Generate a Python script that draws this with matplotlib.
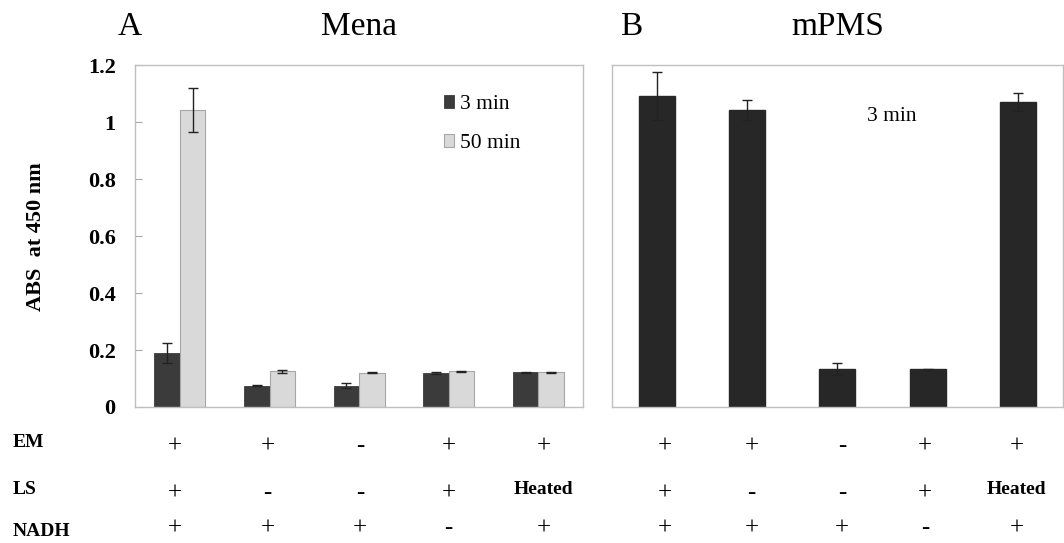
import numpy as np
import matplotlib
matplotlib.use("Agg")
from matplotlib import pyplot as plt
import matplotlib.transforms as mtransforms

plt.rcParams['font.family'] = ['Liberation Serif', 'DejaVu Serif']

# panel A (Mena), two time points
mena_3min = [0.19, 0.075, 0.075, 0.12, 0.122]
mena_3min_err = [0.035, 0.003, 0.01, 0.003, 0.002]
mena_50min = [1.043, 0.126, 0.12, 0.125, 0.122]
mena_50min_err = [0.077, 0.005, 0.002, 0.002, 0.002]

# panel B (mPMS), 3 min only
mpms_3min = [1.092, 1.042, 0.133, 0.133, 1.072]
mpms_3min_err = [0.085, 0.035, 0.02, 0.002, 0.032]

row_names = ['EM', 'LS', 'NADH']
row_em = ['+', '+', '-', '+', '+']
row_ls = ['+', '-', '-', '+', 'Heated']
row_nadh = ['+', '+', '+', '-', '+']

yticks = [0, 0.2, 0.4, 0.6, 0.8, 1, 1.2]
ytick_labels = ['0', '0.2', '0.4', '0.6', '0.8', '1', '1.2']

fig = plt.figure(figsize=(10.64, 5.43), dpi=100)
axA = fig.add_axes([0.127, 0.2505, 0.421, 0.6295])
axB = fig.add_axes([0.575, 0.2505, 0.424, 0.6295])

x = np.arange(5)
w = 0.285
err_kw = dict(ecolor='#222222', elinewidth=1.0, capsize=3.5, capthick=1.0)

axA.bar(x - w / 2, mena_3min, w, yerr=mena_3min_err, color='#3b3b3b',
        edgecolor='#3b3b3b', linewidth=0.6, label='3 min', error_kw=err_kw)
axA.bar(x + w / 2, mena_50min, w, yerr=mena_50min_err, color='#d9d9d9',
        edgecolor='#a6a6a6', linewidth=0.8, label='50 min', error_kw=err_kw)

axB.bar(x, mpms_3min, 0.4, yerr=mpms_3min_err, color='#272727',
        edgecolor='#272727', error_kw=err_kw)
axB.text(2.6, 1.02, '3 min', fontsize=15.5, ha='center', va='center')

for ax in (axA, axB):
    ax.set_xlim(-0.5, 4.5)
    ax.set_ylim(0, 1.2)
    ax.set_xticks([])
    for sp in ax.spines.values():
        sp.set_color('#bfbfbf')
        sp.set_linewidth(1.0)

axA.set_yticks(yticks)
axA.set_yticklabels(ytick_labels, fontsize=16, fontweight='bold')
axA.tick_params(axis='y', direction='in', length=5, color='#a6a6a6', pad=14)
axB.set_yticks([])
fig.text(36 / 1064, 0.565, 'ABS  at 450 nm', rotation=90, fontsize=16,
         fontweight='bold', ha='center', va='center')

axA.legend(loc='upper left', bbox_to_anchor=(0.69, 0.912), frameon=False,
           fontsize=15.5, handlelength=0.47, handleheight=0.55,
           handletextpad=0.25, labelspacing=0.9, borderaxespad=0, borderpad=0)

fig.text(130 / 1064, 0.9355, 'A', fontsize=24, ha='center', va='baseline')
fig.text(359 / 1064, 0.9355, 'Mena', fontsize=24, ha='center', va='baseline')
fig.text(631 / 1064, 0.9355, 'B', fontsize=24, ha='center', va='baseline')
fig.text(838 / 1064, 0.9355, 'mPMS', fontsize=24, ha='center', va='baseline')

# condition table below the axes
label_y = [0.186, 0.099, 0.022]
sign_y = [0.178, 0.092, 0.027]
rows = [row_em, row_ls, row_nadh]
col_shift = {axA: [-0.06, -0.02, 0.01, 0.0, 0.06],
             axB: [0.09, 0.05, 0.05, -0.03, -0.01]}
for name, yy in zip(row_names, label_y):
    fig.text(0.012, yy, name, fontsize=14, fontweight='bold', ha='left', va='center')
for ax in (axA, axB):
    trans = mtransforms.blended_transform_factory(ax.transData, fig.transFigure)
    for vals, yy, ly in zip(rows, sign_y, label_y):
        for xi, dx, v in zip(x, col_shift[ax], vals):
            if v == 'Heated':
                ax.text(xi + dx, ly, v, transform=trans, fontsize=14,
                        fontweight='bold', ha='center', va='center', clip_on=False)
            else:
                ax.text(xi + dx, yy, v, transform=trans, fontsize=18,
                        ha='center', va='center', clip_on=False)

fig.savefig('out.png', dpi=100)
